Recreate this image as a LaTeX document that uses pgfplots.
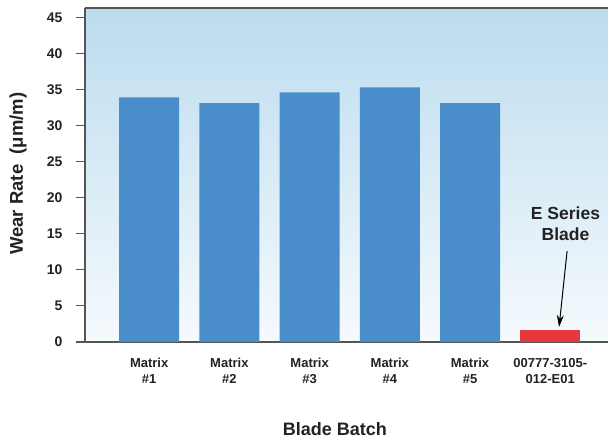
\documentclass[border=0pt]{standalone}
\usepackage{pgfplots}
\pgfplotsset{compat=1.18}
\usepackage{fontspec}
\setmainfont{Liberation Sans}
\usetikzlibrary{arrows.meta}
\definecolor{barblue}{HTML}{4A8DCB}
\definecolor{barred}{HTML}{E8383F}
\definecolor{bgtop}{HTML}{BCDCEE}
\definecolor{bgbot}{HTML}{F5FAFD}
\definecolor{txt}{HTML}{222222}
\definecolor{axgray}{HTML}{555555}

\begin{document}
\begin{tikzpicture}
\begin{axis}[
    scale only axis,
    width=523pt, height=334pt,
    xmin=-0.8, xmax=5.72,
    ymin=0, ymax=46.3,
    axis x line*=bottom,
    axis y line*=left,
    axis line style={-, axgray, line width=1.1pt},
    axis background/.style={shade, top color=bgtop, bottom color=bgbot},
    ytick={0,5,...,45},
    ytick style={axgray, line width=1.1pt},
    tick align=outside,
    major tick length=9pt,
    xtick={0,...,5},
    xtick style={draw=none},
    xticklabels={{Matrix\\\#1},{Matrix\\\#2},{Matrix\\\#3},{Matrix\\\#4},{Matrix\\\#5},{00777-3105-\\012-E01}},
    xticklabel style={align=center, font=\fontsize{13}{16}\selectfont\bfseries, text=txt, yshift=-4pt},
    yticklabel style={font=\fontsize{14}{16}\selectfont\bfseries, text=txt, xshift=-10pt},
    /pgf/number format/assume math mode=true,
    xlabel={Blade Batch},
    xlabel style={at={(rel axis cs:0.478,0)}, anchor=center, yshift=-87pt, font=\fontsize{18}{20}\selectfont\bfseries, text=txt},
    ylabel={Wear Rate\ \ (μm/m)},
    ylabel style={at={(rel axis cs:0,0.504)}, anchor=center, yshift=67pt, font=\fontsize{18.5}{20}\selectfont\bfseries, text=txt},
    clip=false,
]
\coordinate (o) at (rel axis cs:0,0);
\draw[axgray, line width=1.1pt] (rel axis cs:0,1) -- (rel axis cs:1,1);
\addplot[ybar, bar width=60pt, bar shift=0pt, fill=barblue, draw=none]
    coordinates {(0,33.9) (1,33.1) (2,34.6) (3,35.3) (4,33.1)};
\addplot[ybar, bar width=60pt, bar shift=0pt, fill=barred, draw=none]
    coordinates {(5,1.7)};
\node[align=center, font=\fontsize{17.5}{21}\selectfont\bfseries, text=txt] at (axis cs:5.19,16.4) {E Series\\Blade};
\draw[-{Stealth[length=12pt,width=7pt]}, line width=1pt, black] (axis cs:5.21,12.6) -- (axis cs:5.11,2.08);
\end{axis}
\pgfresetboundingbox
\path ([shift={(-85pt,-97pt)}]o) rectangle ([shift={(523pt,342pt)}]o);
\end{tikzpicture}
\end{document}
